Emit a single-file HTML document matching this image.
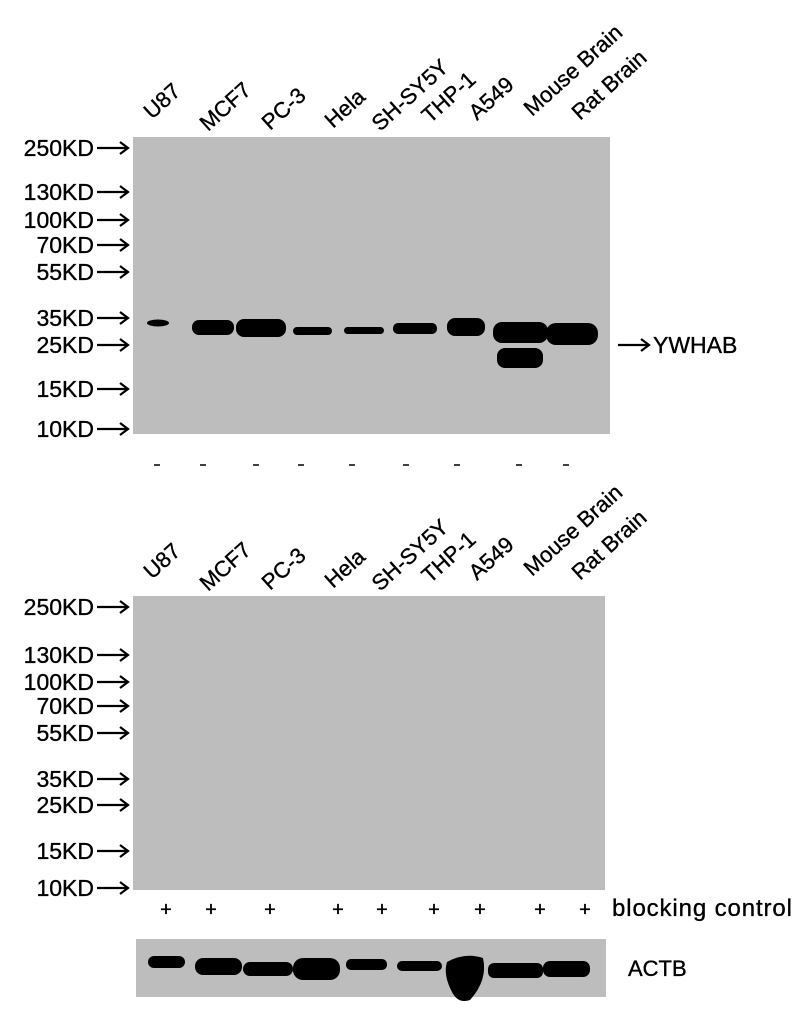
<!DOCTYPE html>
<html><head><meta charset="utf-8"><style>
html,body{margin:0;padding:0;background:#fff;}
svg{display:block;}
text{font-family:"Liberation Sans",sans-serif;fill:#000;stroke:#000;stroke-width:0.35;}
</style></head><body>
<svg width="797" height="1018" viewBox="0 0 797 1018" xmlns="http://www.w3.org/2000/svg">
<defs>
<g id="arr"><line x1="0" y1="0" x2="30" y2="0" stroke="#000" stroke-width="2.2"/><path d="M23,-6 L31,0 L23,6" fill="none" stroke="#000" stroke-width="2.2"/></g>
</defs>
<rect x="133" y="137" width="477" height="297" fill="#bdbdbd"/>
<g fill="#000">
<ellipse cx="158" cy="323" rx="11" ry="3.5"/>
<rect x="192" y="320" width="42" height="15" rx="7"/>
<rect x="236" y="319" width="50" height="18" rx="8"/>
<rect x="293" y="327" width="39" height="8" rx="4"/>
<rect x="344" y="327" width="40" height="7" rx="3.5"/>
<rect x="393" y="323" width="44" height="11" rx="5"/>
<rect x="447" y="318" width="38" height="18" rx="8"/>
<rect x="493" y="322" width="55" height="21" rx="9"/>
<rect x="497" y="348" width="46" height="20" rx="8"/>
<rect x="546" y="323" width="52" height="22" rx="10"/>
</g>
<rect x="133" y="596" width="472" height="294" fill="#bdbdbd"/>
<rect x="136" y="939" width="470" height="58" fill="#bdbdbd"/>
<g fill="#000">
<rect x="148" y="956" width="37" height="12" rx="6"/>
<rect x="195" y="958" width="47" height="17" rx="8"/>
<rect x="243" y="962" width="50" height="14" rx="7"/>
<rect x="293" y="958" width="47" height="22" rx="10"/>
<rect x="346" y="959" width="41" height="11" rx="5"/>
<rect x="397" y="961" width="45" height="10" rx="5"/>
<path d="M447,962 Q465,952 483,958 Q488,980 470,1000 Q458,1004 452,992 Q443,975 447,962Z"/>
<rect x="488" y="963" width="55" height="15" rx="6"/>
<rect x="543" y="961" width="47" height="16" rx="7"/>
</g>
<g font-size="23" text-anchor="end">
<text x="94" y="156">250KD</text><use href="#arr" x="97" y="148"/>
<text x="94" y="200">130KD</text><use href="#arr" x="97" y="192"/>
<text x="94" y="228">100KD</text><use href="#arr" x="97" y="220"/>
<text x="94" y="253">70KD</text><use href="#arr" x="97" y="245"/>
<text x="94" y="280">55KD</text><use href="#arr" x="97" y="272"/>
<text x="94" y="326">35KD</text><use href="#arr" x="97" y="318"/>
<text x="94" y="353">25KD</text><use href="#arr" x="97" y="345"/>
<text x="94" y="397">15KD</text><use href="#arr" x="97" y="389"/>
<text x="94" y="437">10KD</text><use href="#arr" x="97" y="429"/>
</g>
<g font-size="23" text-anchor="end">
<text x="94" y="615">250KD</text><use href="#arr" x="97" y="607"/>
<text x="94" y="663">130KD</text><use href="#arr" x="97" y="655"/>
<text x="94" y="690">100KD</text><use href="#arr" x="97" y="682"/>
<text x="94" y="714">70KD</text><use href="#arr" x="97" y="706"/>
<text x="94" y="741">55KD</text><use href="#arr" x="97" y="733"/>
<text x="94" y="787">35KD</text><use href="#arr" x="97" y="779"/>
<text x="94" y="813">25KD</text><use href="#arr" x="97" y="805"/>
<text x="94" y="859">15KD</text><use href="#arr" x="97" y="851"/>
<text x="94" y="896">10KD</text><use href="#arr" x="97" y="888"/>
</g>
<g font-size="22">
<text transform="translate(152,120) rotate(-42)">U87</text>
<text transform="translate(208,132) rotate(-42)">MCF7</text>
<text transform="translate(270,131) rotate(-42)">PC-3</text>
<text transform="translate(333,129) rotate(-42)">Hela</text>
<text transform="translate(380,132) rotate(-42)">SH-SY5Y</text>
<text transform="translate(430,124) rotate(-42)">THP-1</text>
<text transform="translate(477,121) rotate(-42)">A549</text>
<text transform="translate(532,117) rotate(-42)">Mouse Brain</text>
<text transform="translate(580,121) rotate(-42)">Rat Brain</text>
</g>
<g font-size="22">
<text transform="translate(152,580) rotate(-42)">U87</text>
<text transform="translate(208,592) rotate(-42)">MCF7</text>
<text transform="translate(270,591) rotate(-42)">PC-3</text>
<text transform="translate(333,589) rotate(-42)">Hela</text>
<text transform="translate(380,592) rotate(-42)">SH-SY5Y</text>
<text transform="translate(430,584) rotate(-42)">THP-1</text>
<text transform="translate(477,581) rotate(-42)">A549</text>
<text transform="translate(532,577) rotate(-42)">Mouse Brain</text>
<text transform="translate(580,581) rotate(-42)">Rat Brain</text>
</g>
<g stroke="#000" stroke-width="1.5">
<line x1="154" y1="465" x2="160" y2="465"/><line x1="200" y1="465" x2="206" y2="465"/>
<line x1="253" y1="465" x2="259" y2="465"/><line x1="298" y1="465" x2="304" y2="465"/>
<line x1="349" y1="465" x2="355" y2="465"/><line x1="403" y1="465" x2="409" y2="465"/>
<line x1="454" y1="465" x2="460" y2="465"/><line x1="516" y1="465" x2="522" y2="465"/>
<line x1="563" y1="465" x2="569" y2="465"/>
</g>
<g font-size="20" text-anchor="middle">
<text x="166" y="916">+</text><text x="211" y="916">+</text><text x="270" y="916">+</text>
<text x="338" y="916">+</text><text x="382" y="916">+</text><text x="434" y="916">+</text>
<text x="480" y="916">+</text><text x="540" y="916">+</text><text x="585" y="916">+</text>
</g>
<text x="612" y="916" font-size="24" textLength="180">blocking control</text>
<use href="#arr" x="618" y="345"/>
<text x="653" y="353" font-size="23">YWHAB</text>
<text x="628" y="976" font-size="22">ACTB</text>
</svg>
</body></html>
